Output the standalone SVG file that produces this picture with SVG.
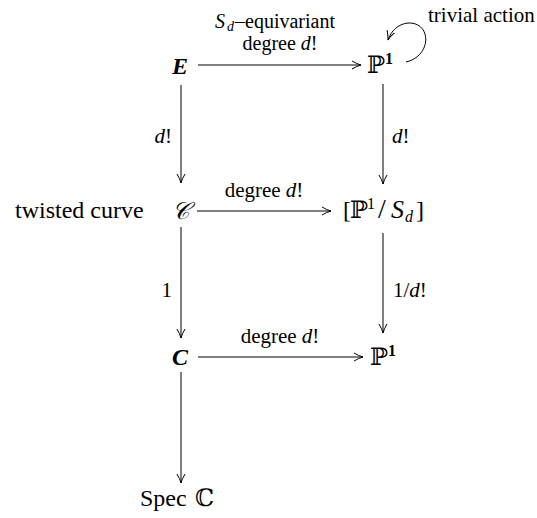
<svg xmlns="http://www.w3.org/2000/svg" width="537" height="518" viewBox="0 0 537 518" font-family="'Liberation Serif', 'Times New Roman', 'DejaVu Serif', serif">
<style>
text{font-family:'Liberation Serif','Times New Roman','DejaVu Serif',serif;fill:#000}
.node{font-size:24px}
.bi{font-weight:bold;font-style:italic}
.lbl{font-size:21px}
.top{font-size:20px}
.it{font-style:italic}
.sup{font-size:16px}
.edge{stroke:#000;stroke-width:1;fill:none;marker-end:url(#ah)}
</style>
<defs>
<marker id="ah" markerUnits="userSpaceOnUse" markerWidth="12" markerHeight="12" refX="9" refY="5" orient="auto">
<path d="M0,1 Q5,4 9,5 Q5,6 0,9" fill="none" stroke="#000" stroke-width="1"/>
</marker>
</defs>
<g id="connectors">
<path class="edge" d="M198,65 H361"/>
<path class="edge" d="M406,62 C432,56 432,22 408,23 C398,24 391,31 388,40"/>
<path class="edge" d="M181,85 V183"/>
<path class="edge" d="M383,84 V184"/>
<path class="edge" d="M197,211 H331"/>
<path class="edge" d="M181,227 V338"/>
<path class="edge" d="M383,233 V333"/>
<path class="edge" d="M198,357 H363"/>
<path class="edge" d="M181,372 V483"/>
</g>
<g id="labels">
<text class="top" x="215" y="28"><tspan class="it">S</tspan><tspan class="it" font-size="14" x="227" y="31">d</tspan><tspan x="235" y="28">–equivariant</tspan></text>
<text class="top" x="280" y="50" text-anchor="middle">degree <tspan class="it">d</tspan>!</text>
<text class="lbl" x="428" y="22">trivial action</text>
<text class="lbl" x="172" y="143" text-anchor="end"><tspan class="it">d</tspan>!</text>
<text class="lbl" x="392" y="143"><tspan class="it">d</tspan>!</text>
<text class="lbl" x="264" y="197" text-anchor="middle">degree <tspan class="it">d</tspan>!</text>
<text class="lbl" x="172" y="297" text-anchor="end">1</text>
<text class="lbl" x="393" y="297">1/<tspan class="it">d</tspan>!</text>
<text class="lbl" x="280" y="343" text-anchor="middle">degree <tspan class="it">d</tspan>!</text>
</g>
<g id="E"><text class="node bi" x="180" y="74" text-anchor="middle">E</text></g>
<g id="P1top"><text class="node" x="367" y="73">ℙ<tspan class="sup" font-weight="bold" dy="-9">1</tspan></text></g>
<g id="twisted"><text class="node" x="15" y="218">twisted curve</text></g>
<g id="Ccal"><text class="node it" x="180" y="219" text-anchor="middle">𝒞</text></g>
<g id="quot"><text class="node" x="343" y="218">[<tspan x="350">ℙ</tspan><tspan class="sup" x="367" y="209">1</tspan><tspan x="378" y="218" font-size="28">/</tspan><tspan class="it" font-size="26" x="391" y="218">S</tspan><tspan class="it" font-size="16" x="405" y="222">d</tspan><tspan x="416" y="218">]</tspan></text></g>
<g id="C"><text class="node bi" x="180" y="365" text-anchor="middle">C</text></g>
<g id="P1bot"><text class="node" x="370" y="365">ℙ<tspan class="sup" font-weight="bold" dy="-9">1</tspan></text></g>
<g id="Spec"><text class="node" x="140" y="506">Spec<tspan x="195">ℂ</tspan></text></g>
</svg>
